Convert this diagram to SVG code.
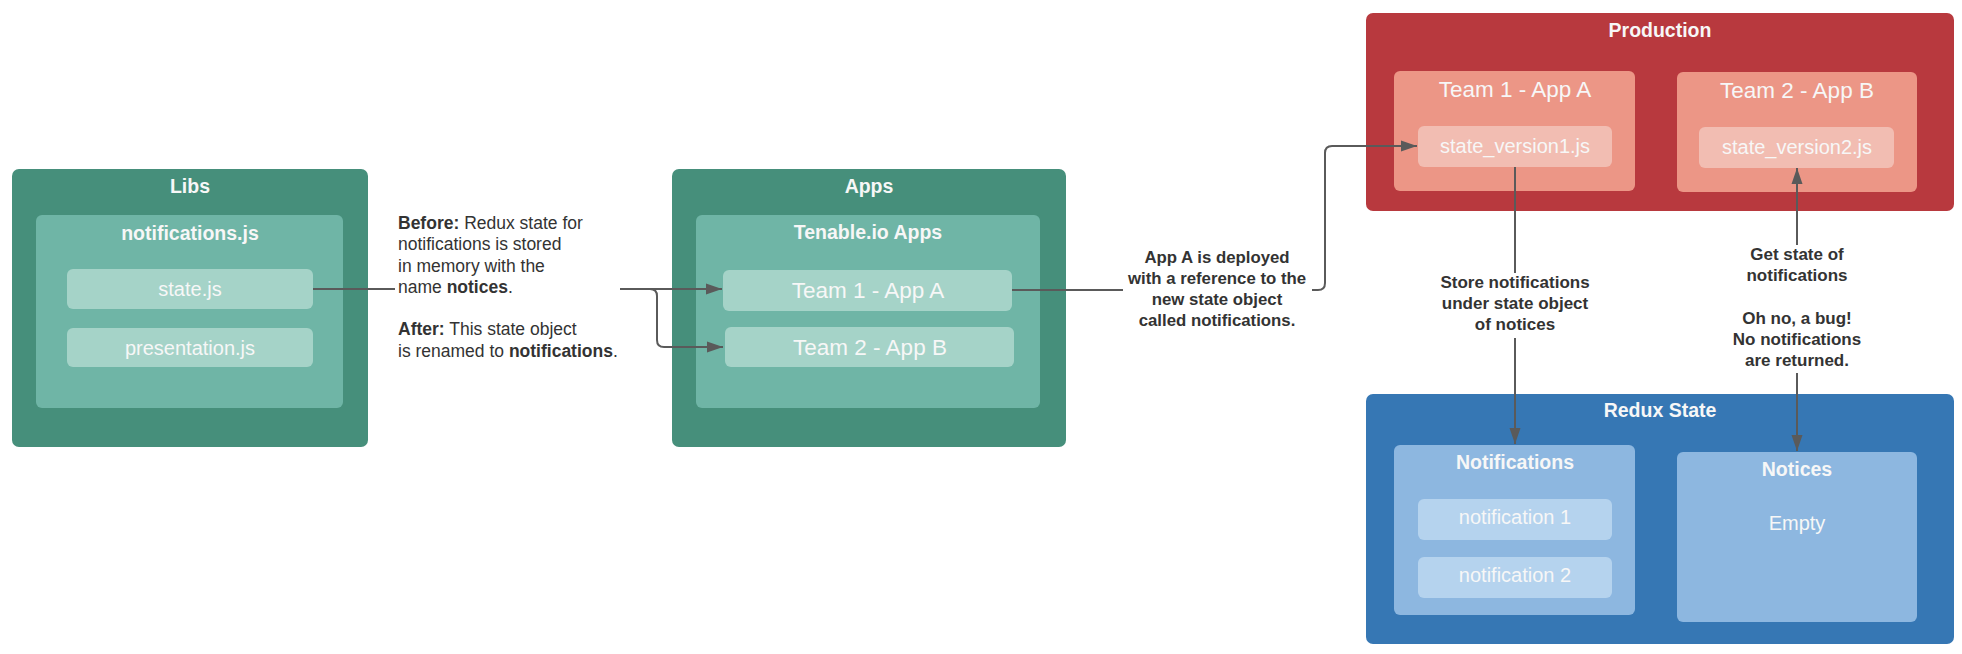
<svg xmlns="http://www.w3.org/2000/svg" width="1962" height="654" viewBox="0 0 1962 654">
<style>
text{font-family:"Liberation Sans",Arial,sans-serif;text-anchor:middle}
.g1{fill:#468F7B}.g2{fill:#6FB5A6}.g3{fill:#A5D3C8}
.r1{fill:#B8393E}.r2{fill:#EC9686}.r3{fill:#F2BDB2}
.b1{fill:#3677B4}.b2{fill:#8DB7E0}.b3{fill:#B5D3EE}
.t1{fill:#F7F7F7;font-weight:bold;font-size:19.5px}
.t3{fill:#F7F7F7;font-size:20px}
.t5{fill:#F7F7F7;font-size:22.5px}
.ann{fill:#333;font-size:17.5px;text-anchor:start}
.annb{fill:#333;font-size:16.8px;font-weight:bold}
.annc{fill:#333;font-size:17px;font-weight:bold}
.c{fill:none;stroke:#5A5A5A;stroke-width:2}
.bg{fill:#fff}
</style>
<defs>
<marker id="ah" markerUnits="userSpaceOnUse" markerWidth="16" markerHeight="12" refX="16" refY="6" orient="auto-start-reverse">
<path d="M0,0.5 L16,6 L0,11.5 z" fill="#5A5A5A"/>
</marker>
</defs>
<rect width="1962" height="654" fill="#fff"/>

<g id="libs">
<rect class="g1" x="12" y="169" width="356" height="278" rx="7"/>
<text class="t1" x="190" y="193">Libs</text>
<g id="notifications-js">
<rect class="g2" x="36" y="215" width="307" height="193" rx="6"/>
<text class="t1" x="190" y="240">notifications.js</text>
</g>
<g id="state-js">
<rect class="g3" x="67" y="269" width="246" height="40" rx="6"/>
<text class="t3" x="190" y="296">state.js</text>
</g>
<g id="presentation-js">
<rect class="g3" x="67" y="328" width="246" height="39" rx="6"/>
<text class="t3" x="190" y="355">presentation.js</text>
</g>
</g>

<g id="apps">
<rect class="g1" x="672" y="169" width="394" height="278" rx="7"/>
<text class="t1" x="869" y="193">Apps</text>
<g id="tenable-apps">
<rect class="g2" x="696" y="215" width="344" height="193" rx="6"/>
<text class="t1" x="868" y="239">Tenable.io Apps</text>
</g>
<g id="apps-team1">
<rect class="g3" x="723" y="270" width="289" height="41" rx="6"/>
<text class="t5" x="868" y="298">Team 1 - App A</text>
</g>
<g id="apps-team2">
<rect class="g3" x="725" y="327" width="289" height="40" rx="6"/>
<text class="t5" x="870" y="355">Team 2 - App B</text>
</g>
</g>

<g id="production">
<rect class="r1" x="1366" y="13" width="588" height="198" rx="7"/>
<text class="t1" x="1660" y="37">Production</text>
<g id="prod-team1">
<rect class="r2" x="1394" y="71" width="241" height="120" rx="6"/>
<text class="t5" x="1515" y="97">Team 1 - App A</text>
</g>
<g id="state-v1">
<rect class="r3" x="1418" y="126" width="194" height="41" rx="6"/>
<text class="t3" x="1515" y="153">state_version1.js</text>
</g>
<g id="prod-team2">
<rect class="r2" x="1677" y="72" width="240" height="120" rx="6"/>
<text class="t5" x="1797" y="98">Team 2 - App B</text>
</g>
<g id="state-v2">
<rect class="r3" x="1699" y="127" width="195" height="41" rx="6"/>
<text class="t3" x="1797" y="154">state_version2.js</text>
</g>
</g>

<g id="redux-state">
<rect class="b1" x="1366" y="394" width="588" height="250" rx="7"/>
<text class="t1" x="1660" y="417">Redux State</text>
<g id="notifications">
<rect class="b2" x="1394" y="445" width="241" height="170" rx="6"/>
<text class="t1" x="1515" y="469">Notifications</text>
</g>
<g id="notification1">
<rect class="b3" x="1418" y="499" width="194" height="41" rx="6"/>
<text class="t3" x="1515" y="524">notification 1</text>
</g>
<g id="notification2">
<rect class="b3" x="1418" y="557" width="194" height="41" rx="6"/>
<text class="t3" x="1515" y="582">notification 2</text>
</g>
<g id="notices">
<rect class="b2" x="1677" y="452" width="240" height="170" rx="6"/>
<text class="t1" x="1797" y="476">Notices</text>
<text class="t3" x="1797" y="530">Empty</text>
</g>
</g>

<g id="connectors">
<path class="c" d="M313,289 H722" marker-end="url(#ah)"/>
<path class="c" d="M620,289 H650 Q657,289 657,296 V340 Q657,347 664,347 H723" marker-end="url(#ah)"/>
<path class="c" d="M1012,290 H1318 Q1325,290 1325,283 V153 Q1325,146 1332,146 H1417" marker-end="url(#ah)"/>
<path class="c" d="M1515,167 V444" marker-end="url(#ah)"/>
<path class="c" d="M1797,168 V451" marker-start="url(#ah)" marker-end="url(#ah)"/>

<rect class="bg" x="395" y="208" width="225" height="156"/>
<text class="ann" x="398" y="229"><tspan font-weight="bold">Before:</tspan> Redux state for</text>
<text class="ann" x="398" y="250">notifications is stored</text>
<text class="ann" x="398" y="272">in memory with the</text>
<text class="ann" x="398" y="293">name <tspan font-weight="bold">notices</tspan>.</text>
<text class="ann" x="398" y="335"><tspan font-weight="bold">After:</tspan> This state object</text>
<text class="ann" x="398" y="357">is renamed to <tspan font-weight="bold">notifications</tspan>.</text>

<rect class="bg" x="1123" y="243" width="189" height="88"/>
<text class="annb" x="1217" y="263">App A is deployed</text>
<text class="annb" x="1217" y="284">with a reference to the</text>
<text class="annb" x="1217" y="305">new state object</text>
<text class="annb" x="1217" y="326">called notifications.</text>

<rect class="bg" x="1435" y="273" width="160" height="65"/>
<text class="annc" x="1515" y="288">Store notifications</text>
<text class="annc" x="1515" y="309">under state object</text>
<text class="annc" x="1515" y="330">of notices</text>

<rect class="bg" x="1726" y="245" width="142" height="128"/>
<text class="annc" x="1797" y="260">Get state of</text>
<text class="annc" x="1797" y="281">notifications</text>
<text class="annc" x="1797" y="324">Oh no, a bug!</text>
<text class="annc" x="1797" y="345">No notifications</text>
<text class="annc" x="1797" y="366">are returned.</text>
</g>
</svg>
